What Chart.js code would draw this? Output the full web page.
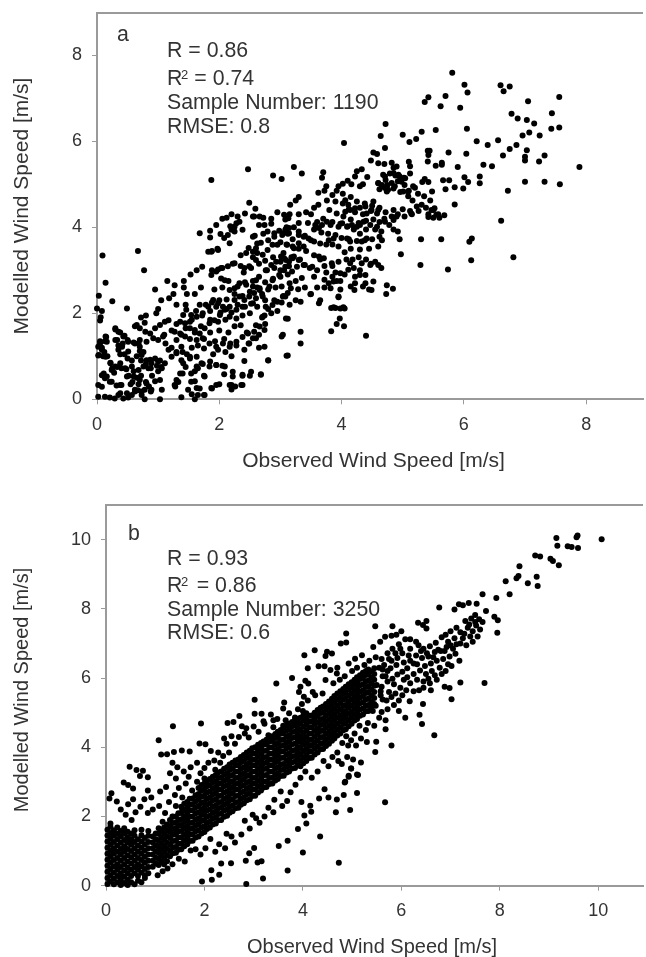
<!DOCTYPE html>
<html><head><meta charset="utf-8">
<script src="https://cdn.jsdelivr.net/npm/chart.js@4"></script>
<style>html,body{margin:0;padding:0;background:#fff;overflow:hidden}canvas{position:absolute;left:0}</style>
</head><body>
<canvas id="a" width="646" height="480" style="top:0"></canvas>
<canvas id="b" width="646" height="477" style="top:480px"></canvas>
<script>
const ticksA=[0,2,4,6,8], ticksB=[0,2,4,6,8,10], ticksBx=[0,2,4,6,8,10];
const xTitle="Observed Wind Speed [m/s]", yTitle="Modelled Wind Speed [m/s]";
const statsA=["R = 0.86","= 0.74","Sample Number: 1190","RMSE: 0.8"];
const statsB=["R = 0.93","= 0.86","Sample Number: 3250","RMSE: 0.6"];
const pointsA=[
[5.81,7.59],[6.01,7.31],[6.06,7.13],[6.6,7.3],[6.65,7.16],[6.75,7.27],[7.56,7.03],[7.05,6.93],[5.42,7.02],[5.36,6.91],[5.7,7.05],[5.62,6.81],[5.94,6.78],[7.44,6.65],[6.78,6.64],[6.88,6.53],[7.03,6.49],[7.15,6.41],[4.72,6.4],[6.05,6.29],[5.54,6.26],[5.31,6.22],[7.56,6.32],[7.43,6.29],[7.07,6.2],[6.96,6.13],[7.24,6.13],[4.64,6.12],[5,6.15],[5.22,6.05],[5.11,5.98],[4.04,5.96],[6.21,6],[6.56,6.02],[6.39,5.91],[6.86,5.91],[6.75,5.82],[7.03,5.79],[6.64,5.67],[6.04,5.71],[5.75,5.74],[4.71,5.84],[4.52,5.74],[4.58,5.7],[7.32,5.67],[7,5.64],[7,5.55],[7.23,5.53],[7.89,5.4],[6.32,5.45],[6.46,5.42],[5.9,5.4],[5.64,5.5],[5.64,5.45],[5.54,5.43],[5.41,5.78],[5.44,5.78],[5.42,5.68],[5.41,5.53],[7,5.06],[7.32,5.06],[7.57,5],[6.72,4.85],[6.26,5.18],[6.26,5.02],[6.01,5.16],[6.07,5.05],[5.66,5.09],[5.76,5.09],[5.7,4.88],[5.85,4.93],[5.99,4.9],[5.48,4.83],[5.85,4.53],[6.61,4.15],[5.3,3.72],[5.63,3.72],[6.13,3.74],[6.09,3.66],[4.97,3.37],[5.29,3.12],[5.74,3.02],[6.12,3.23],[6.81,3.3],[4.74,2.65],[4.84,2.57],[4.73,2.45],[3.95,2.39],
[4.48,5.55],[4.6,5.49],[4.7,5.47],[4.85,5.38],[4.82,5.5],[5.1,5.52],[5.12,5.42],[4.33,5.35],[4.42,5.17],[4.22,5.18],[4.25,5.3],[4.35,5],[4.3,4.95],[4.02,5.01],[4.16,5],[4.1,5.08],[4.68,5.22],[4.72,5.1],[4.79,5.25],[4.88,5.2],[4.95,5.18],[5.02,5.15],[5.12,5.25],[4.6,5.03],[4.66,4.95],[4.75,4.98],[4.82,5.03],[4.92,5.07],[5.03,4.98],[5.1,4.85],[5.2,4.92],[5.32,5.05],[5.36,5.12],[5.42,5.05],[4.62,4.88],[4.74,4.83],[4.85,4.9],[4.96,4.82],[5.09,4.72],[5.16,4.62],[5.25,4.78],[5.35,4.72],[5.45,4.62],[5.38,4.45],[5.5,4.4],[5.58,4.3],[5.6,4.22],[5.68,4.28],[5.5,4.22],[5.42,4.3],[5.26,4.38],[5.12,4.38],[5.0,4.42],[4.85,4.4],[4.72,4.35],[4.62,4.45],[4.5,4.5],[4.38,4.55],[4.3,4.45],[4.25,4.6],[4.15,4.7],[4.02,4.78],[3.92,4.85],[3.85,4.75],[3.76,4.62],[3.72,4.85],[3.9,4.6],[4.02,4.55],[4.12,4.42],[4.22,4.35],[4.35,4.3],[4.48,4.38],[4.58,4.32],[4.7,4.2],[4.82,4.25],[4.92,4.3],[5.03,4.25],[5.15,4.3],[3.8,4.4],[3.92,4.32],[4.03,4.25],[4.15,4.18],[4.28,4.1],[4.4,4.15],[4.52,4.18],[4.62,4.12],[4.78,4.05],[4.85,3.95],[4.95,3.72],[4.92,3.9],[4.65,3.9],[4.55,3.95],[4.4,3.95],[4.3,3.85],[4.2,3.95],[4.1,4.02],[3.98,4.08],[3.85,4.12],[3.7,4.2],[3.6,4.12],[3.5,4.3],[3.45,4.1],[3.55,3.95],[3.67,3.88],[3.78,3.85],[3.9,3.82],[4,3.75],[4.12,3.72],[4.25,3.68],[4.38,3.7],[4.5,3.72],[4.6,3.55],[4.62,3.78],[4.45,3.5],[4.3,3.48],[4.15,3.5],[4.05,3.42],[3.95,3.55],[3.85,3.6],[3.75,3.6],[3.65,3.62],[3.5,3.7],[3.4,3.8],[3.3,3.9],[3.22,4],[3.3,4.1],[3.12,3.85],[3.2,3.72],
[3.95,3.2],[4.08,3.25],[4.18,3.25],[4.28,3.3],[4.4,3.25],[4.48,3.15],[4.55,3.2],[4.65,3.05],[4.2,3.05],[4.3,3],[4.22,2.85],[4.05,2.9],[3.98,2.75],[3.9,2.95],[3.85,3.1],[3.72,3.1],[3.65,3.25],[3.55,3.35],[3.42,3.45],[3.3,3.5],[3.2,3.55],[3.1,3.6],[3,3.65],[3.05,3.4],[3,3.2],[3.18,3.3],[3.32,3.25],[3.4,3.12],[3.48,3.05],[3.6,3],[3.75,2.95],[3.72,2.78],[3.85,2.85],[3.98,2.55],[4.15,2.62],[4.35,2.62],[4.45,2.55],[3.92,2.75],[3.6,2.6],[3.72,2.6],[3.55,2.85],[3.35,2.82],[3.4,2.6],[3.5,2.45],[3.65,2.3],[3.9,2.12],[3.92,1.75],[3.98,2.11],[4.05,2.11],[3.97,1.88],[4.04,1.7],[3.83,2.12],[4.4,1.48],[3.83,1.58],[3.33,1.57],[3.33,1.3],[3.04,1.5],[3.12,1.02],[3.12,1.87],[2.74,1.95],[2.65,1.2],[2.8,0.9],[2.68,0.58],[2.38,0.55],[2.38,0.33],[2.5,0.55],[2.08,0.58],[2.26,0.3],[2.2,0.23],[2.17,0.33],
[0.09,3.34],[0.67,3.45],[0.77,3],[0.14,2.71],[0.03,2.41],[0.25,2.28],[0.49,2.11],[0,2.11],[0.08,2.05],[0.06,1.91],[0.05,1.83],[1.15,2.75],[1.27,2.65],[1.42,2.75],[1.53,2.9],[1.63,3],[1.72,3.08],[1.88,3],[1.98,3.02],[2.05,3.05],[1.88,3.45],[1.97,3.5],[1.7,2.6],[1.6,2.45],[1.47,2.45],[1.42,2.6],[1.25,2.45],[1.18,2.35],[1.3,2.2],[1.45,2.2],[1.05,2.3],[0.95,2.55],[1,2.1],[0.97,2],[0.8,1.95],[0.72,1.9],[0.78,1.78],[0.62,1.7],[0.3,1.62],[0.38,1.55],[0.45,1.48],[0.5,1.38],[0.6,1.32],[0.68,1.3],[0.3,1.38],[0.35,1.25],[0.42,1.3],[0.15,1.45],[0.13,1.35],[0.05,1.35],[0.02,1.22],[0.08,1.2],[0.12,1.1],[0.02,1.02],[0.1,1],[0.17,1],[0.22,0.85],[0.25,0.72],[0.33,0.75],[0.28,0.62],[0.4,0.72],[0.45,1.05],[0.38,1.05],[0.5,0.95],[0.57,0.9],[0.65,1],[0.7,1.12],[0.76,1.1],[0.72,0.9],[0.8,0.82],[0.87,0.92],[0.95,0.95],[1.03,0.9],[0.88,0.72],[0.98,0.78],[1.05,0.75],[0.9,0.55],[1,0.65],[0.95,0.42],[0.8,0.4],[0.85,0.3],[0.48,0.7],[0.52,0.55],[0.6,0.65],[0.65,0.5],[0.72,0.55],[0.68,0.35],[0.58,0.4],[0.02,0.06],[0.13,0.06],[0.21,0.04],[0.29,0.02],[0.38,0.14],[0.43,0.02],[0.51,0.04],[0.57,0.1],[0.62,0.18],[0.67,0.21],[0.73,0.1],[0.78,0],[1.03,0],[0.02,0.33],[0.08,0.29],[0.08,0.56],[0.13,0.49],[0.21,0.41],[0.32,0.32],[0.4,0.33],[0.55,0.35],[0.78,0.22],[0.88,0.18],
[1.28,0.3],[1.33,0.4],[1.4,0.6],[1.45,0.75],[1.52,0.95],[1.6,0.65],[1.65,0.72],[1.73,0.82],[1.85,0.88],[1.95,0.8],[2.05,0.78],[1.75,0.55],[1.6,0.42],[1.68,0.25],[1.55,0.12],[1.65,0.1],[1.75,0.1],[1.38,0.05],[1.6,0],[1.88,0.25],[2,0.35],[1.12,1.3],[1.22,1.2],[1.3,1.1],[1.4,1.1],[1.47,1.05],[1.55,1.2],[1.65,1.25],[1.75,1.18],[1.9,1.05],[1.98,1.15],[2.1,1.1],[2.2,1],[1.1,1.5],[1.22,1.6],[1.3,1.75],[1.38,1.5],[1.45,1.65],[1.52,1.4],[1.6,1.55],[1.7,1.7],[1.75,1.4],[1.85,1.55],[1.93,1.35],[2,1.6],[2.08,1.4],[2.18,1.3],[2.28,1.25],[2.38,1.45],[2.48,1.3],[2.55,1.42],[2.65,1.5],[2.75,1.75],[2.15,1.55],[2.25,1.7],[2.35,1.72],[2.45,1.55],[2.6,1.72],[2.7,1.9],[2.8,2.1],[2.85,2],[2.95,2.05],[3.02,2.25],[3.15,2.2],[3.25,2.3],[3.05,2.4],[2.9,2.3],[2.75,2.3],[2.62,2.15],[2.5,2],[2.38,1.95],[2.28,1.88],[2.1,1.85],[1.98,1.8],[1.85,1.85],[1.72,1.95],[1.62,2.05],[1.55,1.85],[1.85,2.05],[1.95,2.15],[2.02,2.02],[2.12,2.1],[2.2,2.02],[2.3,2.2],[2.42,2.15],[2.52,2.22],[2.6,2.35],[2.7,2.45],[2.8,2.55],[2.92,2.6],[3.02,2.62],[3.15,2.7],[3.25,2.75],[3.12,2.9],[3,2.85],[2.88,2.8],[2.75,2.72],[2.62,2.6],[2.5,2.5],[2.38,2.4],[2.25,2.45],[2.12,2.32],[2,2.3],[1.88,2.25],[1.78,2.2],[1.68,2.2],[2.3,2.62],[2.42,2.72],[2.55,2.75],[2.65,2.85],[2.78,3],[2.9,3.05],[3,3],[2.4,2.95],[2.52,3.05],[2.65,3.15],[2.75,3.22],[2.88,3.3],[2.35,3.1],[2.55,3.3],[2.62,3.4],[2.15,2.75],[2.05,2.6],[1.92,2.55],[2.22,3.15],[2.35,3.35],[2.48,3.52],[2.62,3.62],[2.8,3.7],[2.72,3.85],[2.58,3.8],[2.9,3.78],[2.98,3.92],[3.1,4],[3.08,4.18],[2.25,3.9],[2.08,3.75],[2.3,4.25],[2.18,4.02],[1.85,3.92],[1.95,4.05],[2.05,4.2],[2.12,4.22],[1.87,5.1],[2.42,4.32],[2.55,4.25],[2.65,4.05],[2.72,4.22],[2.85,4.2],[2.95,4.35],[3.15,4.3],[3.3,4.3],[3.42,4.35],[3.55,4.45],[3.62,4.52],[3.25,4.62],[3.3,4.7],[3.62,4.8],[3.75,4.95],[3.95,4.95],[3.7,5.28],[3.68,5.15],[2.47,5.35],[3.02,5.12],[2.88,5.2],[3.22,5.4],[3.35,5.25],
[0.65,1.73],[0.7,1.65],[0.79,1.57],[0.87,1.53],[0.95,1.65],[1.03,1.73],[1.11,1.8],[1.17,1.84],[1.27,1.57],[1.36,1.53],[1.44,1.46],[1.52,1.65],[1.6,1.61],[1.68,1.53],[1.76,1.65],[1.84,1.77],[1.92,1.84],[2.01,1.96],[2.09,2.08],[2.17,2.15],[2.25,2.31],[2.33,2.39],[2.41,2.31],[2.49,2.39],[2.57,2.47],[2.66,2.54],[2.71,2.39],[2.55,2.23],[2.38,2.15],[2.28,2.08],[2.17,1.92],[2.06,2.15],[1.98,2.23],[1.9,2.31],[1.82,2.15],[1.73,2],[1.63,1.92],[1.54,1.96],[1.46,2.08],[1.41,1.96],[1.36,1.8],[1.44,1.77],[1.52,1.8],
[1.3,1.38],[1.38,1.22],[1.3,1.07],[1.22,0.99],[1.17,1.15],[1.08,1.46],[1,1.38],[0.92,1.42],[0.81,1.34],[0.7,1.38],[0.62,1.3],[0.51,1.34],[0.43,1.46],[0.35,1.57],[0.3,1.65],[0.33,1.38],[0.41,1.22],[0.35,1.15],[0.51,1.11],[0.7,1.22],[0.73,1.03],[0.81,0.91],[0.89,0.84],[1,0.88],[1.11,0.84],[1.06,0.72],[0.84,0.72],[0.76,0.76],[0.68,0.68],[0.57,0.76],[0.46,0.72],[0.38,0.84],[0.3,0.76],[0.22,0.84],[0.14,0.99],[0.08,1.15],[0.03,1.03],[0.05,1.3],[0.16,1.34],[0.14,1.46],[0.24,0.68],[0.16,0.53],[0.11,0.6],[0.24,0.41],[0.38,0.33],[0.49,0.53],[0.6,0.53],[0.7,0.45],[0.81,0.37],[0.89,0.22],[0.73,0.18],[0.62,0.22],[0.49,0.14],[0.35,0.1],[1.03,0.45],[1.06,0.22],[1.27,0.33],[1.3,0.45],[1.36,0.6],[1.41,0.84],[1.38,0.91],[1.52,0.99],[1.63,0.99],[1.71,0.84],[1.84,0.76],[1.95,0.8],[2.09,0.76],[2.22,0.64],[2.22,0.53],[2.38,0.57],[2.52,0.64],[2.68,0.57],[1.54,0.6],[1.63,0.76],[1.54,0.41],[1.76,0.53],[1.95,0.33],[1.87,0.26],[1.63,0.26],[1.49,0.22],[1.76,0.1],[2.2,0.33],[2.36,0.33],[1.63,1.38],[1.73,1.42],[1.84,1.3],[1.95,1.22],[2.06,1.3],[2.17,1.22],[2.28,1.34],[2.41,1.15],[2.49,1.3],[2.47,1.53],[2.57,1.57],[2.66,1.69],[2.74,1.61],[2.6,1.42],[2.71,1.92],[2.76,2.15],[2.87,2.19],[2.95,2.27],[3.04,2.39],[3.12,2.47],[3.17,2.58],[3.09,1.88],[3.02,1.46],[3.1,1.01],[2.8,0.91],[2.74,1.22],[2.41,0.89],
[2.17,2.54],[2.25,2.58],[2.33,2.7],[2.44,2.66],[2.55,2.62],[2.66,2.58],[2.6,2.77],[2.76,3],[2.85,3.12],[2.93,3.2],[3.01,3.32],[3.09,3.24],[3.2,3.28],[3.14,3.09],[3.06,3],[2.98,2.89],[2.87,2.77],[2.82,2.62],[2.41,3.05],[2.49,3.09],[2.6,3.24],[2.71,3.36],[2.79,3.47],[2.87,3.59],[2.95,3.59],[2.68,3.64],[2.44,3.4],[2.55,3.43],[2.6,3.51],[1.87,2.89],[1.95,2.97],[2.03,3.05],[2.14,3.09],[2.25,3.16],[2.03,2.81],[2.09,2.77],[1.87,3.43],[1.82,3.43],[1.98,3.47],[1.68,3.86],[1.85,3.76],[2.02,3.84],[2.14,3.82],[2.2,3.94],[2.17,3.63],[2.28,4.09],[2.33,4.13],[2.25,4.01],[2.38,3.94],[2.55,3.78],[2.57,4.25],[2.66,4.25],[2.59,4.43],[2.49,4.57],[3.16,4.52],[2.2,4.3],[2.74,4.05],[2.85,4.08],[2.79,3.9],[2.9,3.86],[3.04,3.86],[3.09,3.94],[3.14,3.98],[3.06,4.29],[3.13,4.21],
[3.68,4.05],[3.76,4.13],[3.82,4.05],[3.63,3.98],[3.57,4.05],[3.95,4.01],[4.01,4.09],[4.09,4.01],[4.17,4.05],[4.25,4.01],[4.3,4.05],[4.36,4.13],[4.47,4.05],[4.58,4.01],[4.71,4.13],[4.85,4.17],[4.9,4.25],[5.14,4.32],[5.23,4.48],[5.31,4.52],[5.47,4.4],[5.52,4.44],[5.42,4.24],[5.55,4.29],[4.66,4.98],[4.71,4.91],[4.76,4.87],[4.6,5.02],[4.87,4.95],[5.01,4.83],[5.09,4.83],[5.17,4.95],[4.98,5.06],[5.04,5.14],[4.85,5.26],[4.93,5.22],[4.9,5.41],[4.71,5.18],[4.06,4.63],[4.11,4.52],[4.14,4.4],[4.22,4.44],[4.06,4.36],[4.39,4.48],[4.52,4.6],[4.6,4.4],[4.41,4.32],[4.49,4.4],[3.3,3.82],[3.38,3.78],[3.46,3.74],[3.55,3.67],[3.3,3.63],[3.38,3.55],[3.22,3.51],[3.14,3.86],[3.08,3.94],[3.03,3.82],[3.11,3.59],[3.22,3.32],[3.3,3.24],[3.14,3.2],[3.06,3.28],[3.08,3.08],[3.19,2.97],[3.27,3.08],[3.38,3.12],[3.52,3.08],[3.63,3.32],[3.71,3.28],[3.79,3.7],[3.87,3.74],[4.09,3.74],[4.14,3.67],[4.33,3.67],[4.41,3.74],[4.66,3.7],[3.84,3.16],[3.98,2.93],[4.11,3.01],[4.14,3.16],[4.3,2.89],[4.39,2.89],[4.33,3.16],[4.47,3.12],[4.6,3.12],[3.79,2.7],[3.87,2.74],[3.82,2.58],[4.22,2.7],[4.21,2.54],[4.39,2.7],[4.52,2.74],[4.49,2.54],[3.29,2.56],[3.49,2.44],[3.08,2.39],[3.33,2.27],[3.63,2.23],[3.95,2.37],[3.87,2.14],[4.03,2.14]
];
const pointsB=[
[10.07,10.01],[9.58,10.12],[9.56,10.07],[9.15,10.05],[9.17,9.82],[9.38,9.81],[9.46,9.79],[9.59,9.76],[8.72,9.54],[8.82,9.51],[9.03,9.45],[9.08,9.38],[9.2,9.26],[8.4,9.23],[8.38,8.95],[8.34,8.88],[8.75,8.93],[8.77,8.66],[8.57,8.74],[8.12,8.8],[8.2,8.42],[7.93,8.31],[7.65,8.42],[6.77,8.04],[7.08,7.98],[7.17,8.13],[7.25,8.1],[7.37,8.17],[7.53,8.15],[7.72,7.94],[7.89,7.77],[7.96,7.67],[7.95,7.31],[5.47,7.5],[5.82,7.5],[6.34,7.6],[6.51,7.65],[6.44,7.53],[6.51,7.43],[4.88,7.29],[4.77,7],[4.88,7.03],[7.69,5.86],[7.2,5.87],[6.98,5.71],[7.02,5.39],[6.67,4.35],[6.42,4.67],[6.37,4.94],[6.44,5.25],[6.17,5.33],[6.36,5.65],[5.8,4.05],[5.68,4.52],[5.49,4.16],[5.47,3.86],[5.18,3.56],[4.98,3.39],[5.12,3.2],[4.93,3.18],[4.85,2.98],[4.79,3.52],
[4.73,0.66],[4.35,1.42],[4,0.96],[3.69,0.44],[3.19,0.21],[2.85,0.05],[1.95,0.12],[2.15,0.17],[2.3,0.32],[2.14,0.45],[2.34,0.64],[2.54,0.65],[2.84,0.72],[3.08,0.67],[3.16,0.71],[2.91,0.94],[3.01,1.09],[3.51,1.15],[3.69,1.3],[3.9,1.64],[4.07,1.8],[4.03,2.03],[4.17,2.14],[4.15,2.31],[3.97,2.42],[4.96,2.19],[4.67,2.12],[5.67,2.41],[5.1,2.68],[4.83,2.62],[4.69,2.49],[4.52,2.55],[4.33,2.52],[4.44,2.79],[4.86,3],[4.93,3.15],[5.1,3.21],[4.98,3.39],
[1.36,4.61],[1.93,4.69],[1.07,4.2],[2.47,4.7],[2.59,4.73],[2.71,4.9],[2.76,4.61],[3.02,4.97],[3.16,4.97],[3.35,4.95],[1.12,3.79],[1.24,3.8],[1.38,3.86],[1.54,3.91],[1.7,3.88],[1.9,4.11],[2.02,4.09],[2.13,3.89],[0.48,3.44],[0.62,3.34],[0.69,3.17],[0.75,3.32],[0.85,3.13],[0.11,2.67],[0.07,2.52],[0.22,2.43],[0.36,2.98],[0.45,2.91],[0.55,2.81],[4.24,6.8],[4.03,6.66],[4.49,6.76],[4.46,6.64],[4.59,6.71],[4.1,6.28],[4.32,6.34],[4.44,6.34],[4.56,6.23],[4.69,6.13],[3.46,5.84],[3.78,6],[4.05,5.92],[4.11,5.84],[4.46,5.94],[3.02,5.37],[3.62,5.29],[3.95,5.75],[4.02,5.46],[3.6,5.12],[3.84,4.86],[5.43,6.9],[5.57,7.05],[5.67,7.19],[5.2,6.66],[5.06,6.56],[4.93,6.42],
[3.22,4.68],[3.4,4.78],[3.48,4.82],[3.65,4.78],[3.2,4.75],[3.6,4.62],[3.72,4.98],[3.9,5.1],[4,5.05],[3.98,5.25],[4.1,5.35],[4.2,5.6],[3.92,5.6],[4.25,5.5],[4.4,5.55],[4.62,5.85],[4.75,5.95],[4.7,6.3],[4.85,6.05],[5,6.2],[5.1,6.3],[5.25,6.38],[5.35,6.5],[5.48,6.6],[5.6,6.55],[5.72,6.72],[5.82,6.85],[5.95,6.98],[6.08,7.12],[6.18,7.12],[6.3,7.05],[5.9,7.25],[6,7.35],[5.8,7.22],[6.02,6.72],[6.18,6.85],[6.35,6.95],[6.45,6.85],[6.58,6.92],[6.7,7.02],[6.82,7.18],[6.9,7.25],[7,7.35],[7.12,7.45],[7.2,7.32],[7.3,7.65],[7.35,7.45],[7.42,7.72],[7.5,7.82],[7.58,7.7],[7.52,7.52],[7.65,7.62],[7.45,7.35],[7.6,7.4],[7.55,7.2],[7.4,7.2],[7.25,7.15],[7.32,6.95],[7.45,7.05],[7.2,7],[7.08,7.15],[6.95,7.05],[7.05,6.85],[6.92,6.9],[6.8,6.78],[6.68,6.75],[6.55,6.62],[6.42,6.58],[6.3,6.65],[6.18,6.5],[6.32,6.4],[6.48,6.35],[6.6,6.42],[6.72,6.5],[6.85,6.55],[6.98,6.62],[7.1,6.7],[7.18,6.5],[7.02,6.35],[6.9,6.2],[6.78,6.3],[6.62,6.2],[6.5,6.12],[6.38,6.22],[6.25,6.12],[6.12,6.28],[6.02,6.18],[5.9,6.38],[5.78,6.28],[5.92,6.1],[6.05,5.95],[6.18,5.85],[6.32,5.95],[6.45,5.9],[6.58,5.85],[6.72,5.95],[6.88,5.75],[6.6,5.65],[6.45,5.72],[5.98,5.72],[5.85,5.82],[5.72,5.9],[5.62,6.05],[5.72,6.2],[5.6,5.75],[5.75,5.6],[5.88,5.55],[6.02,5.5],[5.58,5.5],[5.7,5.35],[5.85,5.22],[5.95,5.05],[6.08,4.85],[5.72,5.1],[5.6,5.02],[5.48,5.2],[5.42,5.05],[5.55,4.85],[5.68,4.78],[5.32,4.7],[5.45,4.62],[5.28,4.5],[5.15,4.62],[5.05,4.4],[5.18,4.25],[5.3,4.15],[5.08,4.05],[4.98,4.2],[4.88,4.32],[4.92,4.05],[4.8,4.12],[4.7,3.85],[4.6,3.72],[4.72,3.6],[4.9,3.72],[5.02,3.65],[4.52,3.45],[4.42,3.6],[4.3,3.3],[4.18,3.12],[4.05,3.3],[3.95,3.12],[3.85,2.92],[3.75,2.7],[3.68,2.45],[3.55,2.72],[3.58,2.3],[3.42,2.48],[3.4,2.12],[3.3,2.25],[3.22,2],[3.12,1.82],[3.05,1.95],[2.92,1.65],[2.98,2.05],[2.82,1.88],[2.75,1.48],[2.62,1.25],[2.55,1.42],[2.42,1.08],[2.45,1.5],[2.3,1.2],[2.22,0.98],[2.12,1.35],[2.02,1.08],[1.92,0.9],[1.82,1.05],[1.72,1.02],[1.6,0.7],[1.48,0.78],[1.35,0.62],[1.25,0.5],[1.15,0.42],[1.05,0.3],
[0.22,0.55],[0.3,0.12],[1.42,3.1],[1.3,3.25],[1.58,3.3],[1.72,3.42],[1.85,3.55],[1.45,3.42],[1.35,3.55],[2,3.4],[2.08,3.55],[2.22,3.35],[2.2,3.62],[2.32,3.55],[2.38,3.75],[2.28,3.85],[2.5,3.85],[2.45,4.1],[2.4,4.25],[2.55,4.32],[2.62,4.1],[2.7,4.3],[2.82,4.4],[2.9,4.28],[3.1,4.45],[3,4.6],[2.85,4.55],[3.3,4.35],[3.4,4.58],[1.15,1.85],[1.3,1.72],[1.42,1.62],[1.2,2.1],[1.35,2],[1.5,1.9],[1.08,2.3],[1.28,2.42],[1.1,2.72],[1.22,2.85],[0.92,2.55],[0.85,2.75],[0.78,2.5],[0.7,2.28],[0.6,2.12],[0.52,1.9],[0.4,2.05],[0.3,2.2],[0.45,2.35],[0.55,2.5],[0.95,2.2],[0.85,2.1],[1.42,2.3],[1.55,2.2],[1.4,2.62],[1.55,2.55],[1.48,2.82],[1.62,2.95],[1.68,3.15],[1.75,2.75],[1.85,3],[1.92,3.25],
[5.55,6.3],[5.65,6.38],[5.8,6.5],[5.92,6.58],[6.05,6.45],[6.25,6.42],[6.4,6.78],[6.52,6.72],[6.65,6.6],[6.75,6.82],[6.88,6.78],[7,6.95],[7.12,6.98],[7.28,7.28],[7.38,7.55],[7.5,7.62],[6.15,6.65],[5.98,6.85],[5.88,6.72],[5.75,6.55],[5.62,6.25],[5.5,5.8],[5.58,5.62],[5.62,5.38],[5.8,5.45],[5.95,5.35],[6.1,5.65],[6.25,5.62],[6.55,5.98],[6.68,6.08],[6.82,6.12],[6.95,6.4],[6.12,6.02],[5.82,5.98],[5.68,6.05]
];
const denseB=[
[0.95,[0.55,0.72,0.9,1.08,1.25,1.42]],[1.07,[0.6,0.78,0.95,1.12,1.3,1.5,1.66]],[1.18,[0.62,0.8,0.98,1.15,1.33,1.5,1.68]],[1.3,[0.85,1.02,1.2,1.38,1.55,1.72,1.9]],[1.42,[0.95,1.12,1.3,1.48,1.65,1.82,2]],[1.53,[1.05,1.22,1.4,1.58,1.75,1.92,2.1,2.28]],[1.65,[1.2,1.38,1.55,1.72,1.9,2.08,2.25,2.42]],[1.76,[1.3,1.48,1.65,1.82,2,2.18,2.35,2.52]],[1.88,[1.42,1.6,1.78,1.95,2.12,2.3,2.48,2.65,2.82]],[2,[1.55,1.72,1.9,2.08,2.25,2.42,2.6,2.78,2.95,3.1]],
[2.11,[1.68,1.85,2.02,2.2,2.38,2.55,2.72,2.9,3.08]],[2.23,[1.8,1.98,2.15,2.32,2.5,2.68,2.85,3.02,3.2]],[2.34,[1.9,2.08,2.25,2.42,2.6,2.78,2.95,3.12,3.3]],[2.46,[2.02,2.2,2.38,2.55,2.72,2.9,3.08,3.25,3.42]],[2.57,[2.15,2.32,2.5,2.68,2.85,3.02,3.2,3.38,3.55]],[2.69,[2.25,2.42,2.6,2.78,2.95,3.12,3.3,3.48,3.65]],[2.8,[2.38,2.55,2.72,2.9,3.08,3.25,3.42,3.6,3.78]],[2.92,[2.5,2.68,2.85,3.02,3.2,3.38,3.55,3.72,3.9]],[3.03,[2.6,2.78,2.95,3.12,3.3,3.48,3.65,3.82,4]],[3.15,[2.75,2.92,3.1,3.28,3.45,3.62,3.8,3.98,4.12]],
[3.26,[2.85,3.02,3.2,3.38,3.55,3.72,3.9,4.08,4.22]],[3.38,[2.95,3.12,3.3,3.48,3.65,3.82,4,4.18,4.32]],[3.49,[3.08,3.25,3.42,3.6,3.78,3.95,4.12,4.3,4.45]],[3.61,[3.18,3.35,3.52,3.7,3.88,4.05,4.22,4.4,4.55]],[3.72,[3.3,3.48,3.65,3.82,4,4.18,4.35,4.52,4.68]],[3.84,[3.4,3.58,3.75,3.92,4.1,4.28,4.45,4.62,4.78]],[3.95,[3.45,3.62,3.8,3.98,4.15,4.32,4.5,4.68,4.85]],[4.07,[3.6,3.78,3.95,4.12,4.3,4.48,4.65,4.82,4.98]],[4.18,[3.7,3.88,4.05,4.22,4.4,4.58,4.75,4.92]],[4.3,[3.85,4.02,4.2,4.38,4.55,4.72,4.9,5.08]],
[4.41,[3.95,4.12,4.3,4.48,4.65,4.82,5,5.18]],[4.53,[4.1,4.28,4.45,4.62,4.8,4.98,5.15,5.32]],[4.64,[4.25,4.42,4.6,4.78,4.95,5.12,5.3,5.48]],[4.76,[4.4,4.58,4.75,4.92,5.1,5.28,5.45,5.62]],[4.87,[4.52,4.7,4.88,5.05,5.22,5.4,5.58,5.75]],[4.99,[4.68,4.85,5.02,5.2,5.38,5.55,5.72,5.88]],[5.1,[4.82,5,5.18,5.35,5.52,5.7,5.88,6.02]],[5.22,[4.95,5.12,5.3,5.48,5.65,5.82,6,6.15]],[5.33,[5.05,5.22,5.4,5.58,5.75,5.92,6.1,6.25]],[5.45,[5.25,5.42,5.6,5.78,5.95,6.12,6.28]]
];
const denseB2=[
[1.01,[0.64,0.81,0.99,1.17,1.34,1.51]],[1.12,[0.69,0.87,1.04,1.21,1.39,1.59]],[1.24,[0.71,0.89,1.07,1.24,1.42,1.59,1.77]],[1.36,[0.94,1.11,1.29,1.47,1.64,1.81,1.99]],[1.47,[1.04,1.21,1.39,1.57,1.74,1.91,2.09]],[1.59,[1.14,1.31,1.49,1.67,1.84,2.01,2.19,2.37]],[1.7,[1.29,1.47,1.64,1.81,1.99,2.17,2.34,2.51]],[1.82,[1.39,1.57,1.74,1.91,2.09,2.27,2.44,2.61]],[1.94,[1.51,1.69,1.87,2.04,2.21,2.39,2.57,2.74,2.91]],[2.05,[1.64,1.81,1.99,2.17,2.34,2.51,2.69,2.87,3.02]],
[2.17,[1.77,1.94,2.11,2.29,2.47,2.64,2.81,2.99,3.15]],[2.28,[1.89,2.07,2.24,2.41,2.59,2.77,2.94,3.11,3.27]],[2.4,[1.99,2.17,2.34,2.51,2.69,2.87,3.04,3.21,3.38]],[2.51,[2.11,2.29,2.47,2.64,2.81,2.99,3.17,3.34,3.5]],[2.63,[2.24,2.41,2.59,2.77,2.94,3.11,3.29,3.47,3.62]],[2.74,[2.34,2.51,2.69,2.87,3.04,3.21,3.39,3.57,3.72]],[2.86,[2.47,2.64,2.81,2.99,3.17,3.34,3.51,3.69,3.85]],[2.97,[2.59,2.77,2.94,3.11,3.29,3.47,3.64,3.81,3.97]],[3.09,[2.69,2.87,3.04,3.21,3.39,3.57,3.74,3.91,4.07]],[3.2,[2.84,3.01,3.19,3.37,3.54,3.71,3.89,4.07,4.17]],
[3.32,[2.94,3.11,3.29,3.47,3.64,3.81,3.99,4.17,4.27]],[3.44,[3.04,3.21,3.39,3.57,3.74,3.91,4.09,4.27,4.38]],[3.55,[3.17,3.34,3.51,3.69,3.87,4.04,4.21,4.39,4.5]],[3.67,[3.27,3.44,3.61,3.79,3.97,4.14,4.31,4.49,4.62]],[3.78,[3.39,3.57,3.74,3.91,4.09,4.27,4.44,4.61,4.73]],[3.9,[3.49,3.67,3.84,4.01,4.19,4.37,4.54,4.71,4.82]],[4.01,[3.54,3.71,3.89,4.07,4.24,4.41,4.59,4.77,4.92]],[4.13,[3.69,3.87,4.04,4.21,4.39,4.57,4.74,4.91]],[4.24,[3.79,3.97,4.14,4.31,4.49,4.67,4.84,5]],[4.36,[3.94,4.11,4.29,4.47,4.64,4.81,4.99,5.14]],
[4.47,[4.04,4.21,4.39,4.57,4.74,4.91,5.09,5.25]],[4.59,[4.19,4.37,4.54,4.71,4.89,5.07,5.24,5.4]],[4.7,[4.34,4.51,4.69,4.87,5.04,5.21,5.39,5.55]],[4.82,[4.49,4.67,4.84,5.01,5.19,5.37,5.54,5.68]],[4.93,[4.61,4.79,4.97,5.14,5.31,5.49,5.67,5.82]],[5.05,[4.77,4.94,5.11,5.29,5.47,5.64,5.81,5.95]],[5.16,[4.91,5.09,5.27,5.44,5.61,5.79,5.97,6.08]],[5.28,[5.04,5.21,5.39,5.57,5.74,5.91,6.09,6.2]],[5.39,[5.14,5.31,5.49,5.67,5.84,6.01,6.19]]
];
const lowB=[
[0.03,[0.05,0.22,0.4,0.58,0.75,0.92,1.1,1.28,1.45,1.62]],[0.09,[0.12,0.3,0.48,0.66,0.84,1,1.18,1.36,1.52,1.7,1.8]],[0.16,[0.04,0.2,0.38,0.56,0.74,0.92,1.08,1.26,1.44,1.6]],[0.23,[0.1,0.28,0.46,0.62,0.8,0.98,1.16,1.34,1.5,1.68]],[0.3,[0.02,0.2,0.36,0.54,0.72,0.9,1.06,1.24,1.42,1.58]],[0.37,[0.08,0.26,0.44,0.62,0.8,0.98,1.14,1.32,1.5,1.66]],[0.44,[0.02,0.18,0.36,0.52,0.7,0.88,1.06,1.24,1.4,1.56]],[0.51,[0.1,0.28,0.46,0.64,0.82,1,1.18,1.34,1.5]],[0.58,[0.04,0.36,0.54,0.72,0.9,1.08,1.26,1.44,1.6]],[0.65,[0.14,0.28,0.46,0.62,0.8,0.98,1.16,1.34]],[0.72,[0.1,0.38,0.56,0.74,0.92,1.1,1.28,1.46,1.62]],[0.79,[0.22,0.3,0.48,0.66,0.84,1.02,1.2,1.38]],[0.86,[0.36,0.54,0.72,0.9,1.08,1.26,1.44,1.58]]
];
const dense=denseB.concat(denseB2,lowB).flatMap(c=>c[1].map(y=>[c[0],y]));
const font='"Liberation Sans", Arial, sans-serif', ink='#333', axisC='#9a9a9a';
function textPlugin(cfg){return {id:'txt',afterDraw(ch){const c=ch.ctx,{left,right,top}=ch.chartArea;
 c.save();c.strokeStyle=axisC;c.lineWidth=2;c.beginPath();c.moveTo(left-1,top);c.lineTo(right,top);c.stroke();
 c.fillStyle=ink;c.textBaseline='alphabetic';c.textAlign='left';const f='21.3px '+font;c.font=f;
 c.fillText(cfg.letter,cfg.lx,cfg.ly);
 c.fillText(cfg.s[0],cfg.tx,cfg.b[0]);
 c.fillText('R',cfg.tx,cfg.b[1]);
 c.font='13px '+font;c.fillText('2',cfg.tx+14,cfg.b[1]-6);c.font=f;
 c.fillText(cfg.s[1],cfg.eq,cfg.b[1]);
 c.fillText(cfg.s[2],cfg.tx,cfg.b[2]);c.fillText(cfg.s[3],cfg.tx,cfg.b[3]);
 c.textAlign='center';c.font=cfg.tf+'px '+font;c.fillText(xTitle,cfg.xt[0],cfg.xt[1]);
 c.translate(cfg.yt[0],cfg.yt[1]);c.rotate(-Math.PI/2);c.fillText(yTitle,0,0);
 c.restore();}};}
function make(id,data,xmax,ymax,yt,xt,leftW,bottomH,topP,cfg){
 const scale=(ticks,fit)=>({type:'linear',min:0,afterBuildTicks:s=>{s.ticks=ticks.map(v=>({value:v}));},afterFit:fit,
  grid:{drawOnChartArea:false,drawTicks:true,tickLength:5,color:axisC,lineWidth:1},border:{display:true,color:axisC,width:2},
  ticks:{color:ink,font:{family:font,size:18},padding:10,maxRotation:0,autoSkip:false}});
 new Chart(document.getElementById(id),{type:'scatter',data:{datasets:[{data:data.map(p=>({x:p[0],y:p[1]})),pointRadius:3,pointHoverRadius:3,backgroundColor:'#000',borderWidth:0,clip:false}]},
 options:{responsive:false,animation:false,layout:{padding:{top:topP,left:0,right:0,bottom:0}},plugins:{legend:{display:false},tooltip:{enabled:false}},
 scales:{x:{...scale(xt,s=>{s.height=bottomH;s.paddingLeft=0;s.paddingRight=0;}),max:xmax},y:{...scale(yt,s=>{s.width=leftW;s.paddingTop=0;s.paddingBottom=0;}),max:ymax}}},plugins:[textPlugin(cfg)]});
}
make('a',pointsA,8.93,8.98,ticksA,ticksA,97,80.7,13,{letter:'a',lx:117,ly:41,tx:167,eq:194.3,b:[57,85,109,133],s:statsA,tf:21,xt:[373.5,467],yt:[28,206]});
make('b',pointsB.concat(dense),10.91,11,ticksB,ticksBx,106,71.3,25,{letter:'b',lx:128,ly:60,tx:167,eq:196.7,b:[85,112,136,159],s:statsB,tf:20,xt:[372,473],yt:[28,210]});
</script>
</body></html>
